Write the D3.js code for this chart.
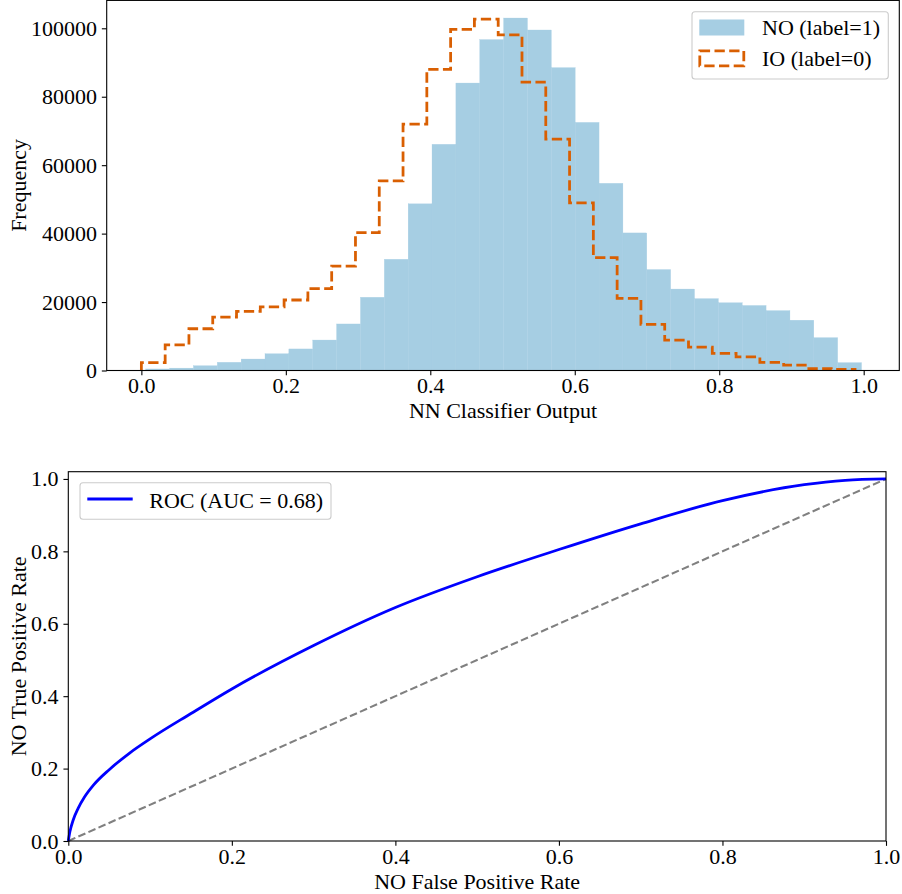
<!DOCTYPE html>
<html>
<head>
<meta charset="utf-8">
<script src="https://cdn.jsdelivr.net/npm/d3@7"></script>
<style>
  html, body { margin: 0; padding: 0; background: #fff; }
  svg { display: block; }
  text { font-family: "Liberation Serif", "Times New Roman", serif; fill: #000; }
</style>
</head>
<body>
<svg id="chart" width="902" height="894"></svg>
<script>
// ---- Histogram of classifier output (30 bins per class) ----
const noBinRange = [0.006, 0.997];   // NO (label=1) bin edges span
const ioBinRange = [0.0, 0.988];     // IO (label=0) bin edges span
const noCounts = [450, 700, 1400, 2400, 3350, 4900, 6300, 8900, 13600, 21400,
                  32500, 48700, 66100, 84000, 96700, 103000, 99500, 88500, 72500, 54700,
                  40200, 29500, 23800, 21000, 19800, 19000, 17500, 14700, 9600, 2300];
const ioCounts = [2300, 7500, 12200, 15600, 17300, 18600, 20600, 23900, 30500, 40300,
                  55400, 72000, 88000, 99700, 102700, 98100, 84300, 67600, 49000, 33000,
                  21100, 13500, 8900, 6800, 5000, 4000, 2400, 1600, 550, 350];
const histXTicks = [0.0, 0.2, 0.4, 0.6, 0.8, 1.0];
const histYTicks = [0, 20000, 40000, 60000, 80000, 100000];
const histLegend = ["NO (label=1)", "IO (label=0)"];

// ---- ROC curve ----
const rocFpr = [0, 0.002, 0.006, 0.012, 0.020, 0.031, 0.050, 0.075, 0.100, 0.150,
                0.200, 0.300, 0.400, 0.500, 0.600, 0.700, 0.800, 0.900, 0.950, 1.0];
const rocTpr = [0, 0.026, 0.058, 0.090, 0.122, 0.155, 0.197, 0.243, 0.282, 0.352,
                0.420, 0.540, 0.645, 0.730, 0.805, 0.876, 0.940, 0.984, 0.996, 1.0];
const rocAuc = 0.68;
const rocTicks = [0.0, 0.2, 0.4, 0.6, 0.8, 1.0];

const BLUE_FILL = "#a6cee3";
const ORANGE = "#d95f02";
const FONT = 22;
const TICK = 4.86, PAD = 4.86;

const svg = d3.select("#chart");

function edges(range, n) {
  const w = (range[1] - range[0]) / n;
  return d3.range(n + 1).map(i => range[0] + i * w);
}

function styleAxis(g) {
  g.select(".domain").remove();
  g.selectAll(".tick line").attr("stroke", "#000").attr("stroke-width", 1.1);
  g.selectAll(".tick text").attr("font-size", FONT)
    .attr("font-family", "'Liberation Serif', 'Times New Roman', serif").attr("fill", "#000");
}

function frame(x0, x1, y0, y1) {
  svg.append("rect").attr("x", x0).attr("y", y0)
    .attr("width", x1 - x0).attr("height", y1 - y0)
    .attr("fill", "none").attr("stroke", "#000").attr("stroke-width", 1.1);
}

// ================= Top panel: histogram =================
{
  const L = 106.7, R = 899.3, T = 0.4, B = 370.5;
  const x = d3.scaleLinear().domain([-0.048, 1.0493]).range([L, R]);
  const yMax = 1.05 * d3.max(noCounts.concat(ioCounts));
  const y = d3.scaleLinear().domain([0, yMax]).range([B, T]);

  const g = svg.append("g");

  const noE = edges(noBinRange, noCounts.length);
  g.selectAll("rect.no").data(noCounts).join("rect")
    .attr("class", "no")
    .attr("x", (d, i) => x(noE[i]))
    .attr("width", (d, i) => x(noE[i + 1]) - x(noE[i]))
    .attr("y", d => y(d))
    .attr("height", d => y(0) - y(d))
    .attr("fill", BLUE_FILL)
    .attr("stroke", BLUE_FILL).attr("stroke-width", 0.3);

  const ioE = edges(ioBinRange, ioCounts.length);
  const pts = [[ioE[0], 0]];
  ioCounts.forEach((c, i) => { pts.push([ioE[i], c]); pts.push([ioE[i + 1], c]); });
  pts.push([ioE[ioE.length - 1], 0]);
  g.append("path")
    .attr("d", d3.line().x(p => x(p[0])).y(p => y(p[1]))(pts))
    .attr("fill", "none").attr("stroke", ORANGE).attr("stroke-width", 2.78)
    .attr("stroke-dasharray", "10.3,4.4");

  svg.append("g").attr("transform", `translate(0,${B})`)
    .call(d3.axisBottom(x).tickValues(histXTicks).tickFormat(d3.format(".1f"))
      .tickSize(TICK).tickPadding(PAD))
    .call(styleAxis)
    .call(a => a.selectAll(".tick text").attr("dy", "0.6em"));
  svg.append("g").attr("transform", `translate(${L},0)`)
    .call(d3.axisLeft(y).tickValues(histYTicks).tickFormat(d3.format("d"))
      .tickSize(TICK).tickPadding(PAD))
    .call(styleAxis);

  frame(L, R, T, B);

  svg.append("text").attr("x", (L + R) / 2).attr("y", 418.3)
    .attr("text-anchor", "middle").attr("font-size", FONT).text("NN Classifier Output");
  svg.append("text").attr("transform", `translate(25.5,${(T + B) / 2}) rotate(-90)`)
    .attr("text-anchor", "middle").attr("font-size", FONT).text("Frequency");

  // legend
  const lg = svg.append("g");
  lg.append("rect").attr("x", 692).attr("y", 11.7).attr("width", 196.3).attr("height", 67.3)
    .attr("rx", 3).attr("fill", "#fff").attr("fill-opacity", 0.8)
    .attr("stroke", "#cccccc").attr("stroke-width", 1.1);
  lg.append("rect").attr("x", 699.3).attr("y", 19.5).attr("width", 45).attr("height", 16)
    .attr("fill", BLUE_FILL);
  lg.append("rect").attr("x", 699.8).attr("y", 50.8).attr("width", 44).attr("height", 15)
    .attr("fill", "none").attr("stroke", ORANGE).attr("stroke-width", 2.78)
    .attr("stroke-dasharray", "10.3,4.4");
  lg.append("text").attr("x", 762).attr("y", 35.3).attr("font-size", FONT).text(histLegend[0]);
  lg.append("text").attr("x", 762).attr("y", 66.3).attr("font-size", FONT).text(histLegend[1]);
}

// ================= Bottom panel: ROC =================
{
  const L = 68.3, R = 886, T = 471.7, B = 841;
  const x = d3.scaleLinear().domain([0, 1]).range([L, R]);
  const y = d3.scaleLinear().domain([0, 1.02]).range([B, T]);

  svg.append("path")
    .attr("d", d3.line().x(d => x(d)).y(d => y(d))([0, 1]))
    .attr("fill", "none").attr("stroke", "#808080").attr("stroke-width", 2.08)
    .attr("stroke-dasharray", "7.7,3.3");

  const roc = rocFpr.map((f, i) => [f, rocTpr[i]]);
  svg.append("path")
    .attr("d", d3.line().x(d => x(d[0])).y(d => y(d[1])).curve(d3.curveMonotoneX)(roc))
    .attr("fill", "none").attr("stroke", "#0000ff").attr("stroke-width", 2.78)
    .attr("stroke-linejoin", "round");

  svg.append("g").attr("transform", `translate(0,${B})`)
    .call(d3.axisBottom(x).tickValues(rocTicks).tickFormat(d3.format(".1f"))
      .tickSize(TICK).tickPadding(PAD))
    .call(styleAxis)
    .call(a => a.selectAll(".tick text").attr("dy", "0.6em"));
  svg.append("g").attr("transform", `translate(${L},0)`)
    .call(d3.axisLeft(y).tickValues(rocTicks).tickFormat(d3.format(".1f"))
      .tickSize(TICK).tickPadding(PAD))
    .call(styleAxis);

  frame(L, R, T, B);

  svg.append("text").attr("x", (L + R) / 2).attr("y", 888.5)
    .attr("text-anchor", "middle").attr("font-size", FONT).text("NO False Positive Rate");
  svg.append("text").attr("transform", `translate(25.5,${(T + B) / 2}) rotate(-90)`)
    .attr("text-anchor", "middle").attr("font-size", FONT).text("NO True Positive Rate");

  const lg = svg.append("g");
  lg.append("rect").attr("x", 80).attr("y", 482.7).attr("width", 251).attr("height", 36.6)
    .attr("rx", 3).attr("fill", "#fff").attr("fill-opacity", 0.8)
    .attr("stroke", "#cccccc").attr("stroke-width", 1.1);
  lg.append("line").attr("x1", 87.3).attr("x2", 132.7).attr("y1", 499).attr("y2", 499)
    .attr("stroke", "#0000ff").attr("stroke-width", 2.78);
  lg.append("text").attr("x", 149.3).attr("y", 507.5).attr("font-size", FONT)
    .text(`ROC (AUC = ${rocAuc.toFixed(2)})`);
}
</script>
</body>
</html>
